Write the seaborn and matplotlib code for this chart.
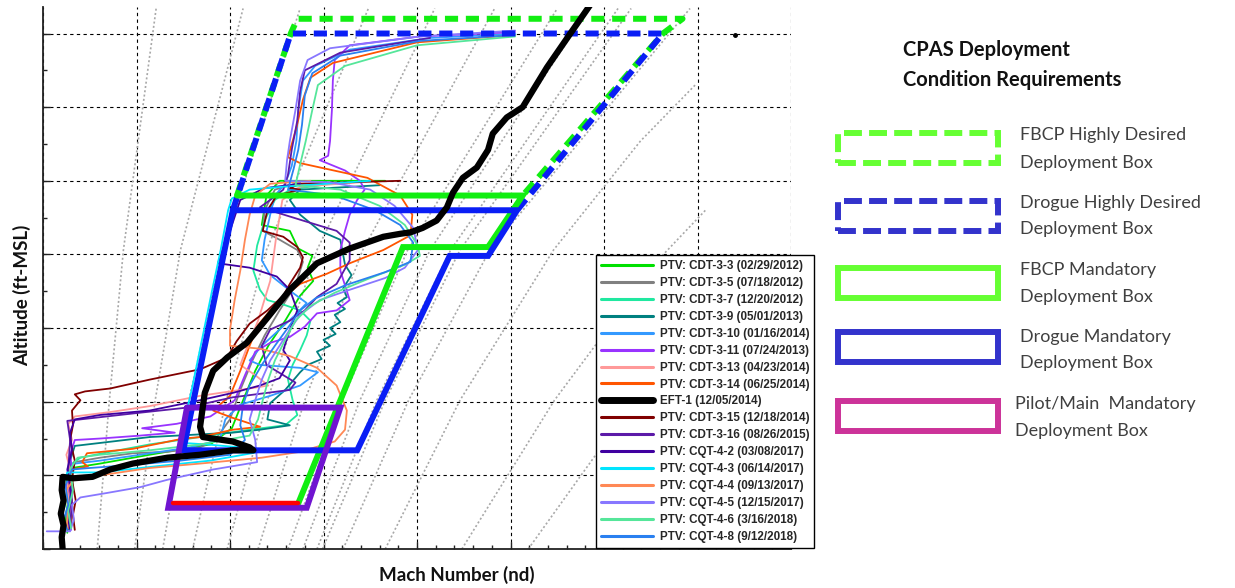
import numpy as np
import pandas as pd
import matplotlib
matplotlib.use("Agg")
import matplotlib.pyplot as plt
from matplotlib.lines import Line2D
from matplotlib.patches import Rectangle
from matplotlib.ticker import MultipleLocator
import seaborn as sns

# =============================================================================
# trajectory data (Mach, altitude ft)
# =============================================================================
cdt33_mach = [0.366, 0.253, 0.239, 0.234, 0.264, 0.273, 0.288, 0.283, 0.289, 0.275, 0.259, 0.241, 0.227, 0.214, 0.202, 0.179, 0.114, 0.061, 0.031, 0.025, 0.027, 0.024, 0.026]
cdt33_alt = [25000, 25000, 24000, 22000, 21600, 20400, 19900, 19100, 18200, 17200, 15500, 13800, 12100, 10100, 8200, 7100, 6400, 5800, 5500, 4700, 3300, 2000, 1100]

cdt35_mach = [0.275, 0.248, 0.237, 0.235, 0.253, 0.272, 0.278, 0.270, 0.253, 0.237, 0.224, 0.211, 0.200, 0.184, 0.168, 0.133, 0.096, 0.061, 0.034, 0.027, 0.029, 0.025, 0.027]
cdt35_alt = [24900, 24400, 23000, 21600, 21000, 20300, 19500, 17900, 16200, 14500, 12800, 10800, 8800, 7400, 6900, 6600, 6500, 6200, 5900, 5000, 3700, 2300, 1300]

cdt37_mach = [0.307, 0.264, 0.248, 0.237, 0.229, 0.225, 0.232, 0.240, 0.257, 0.275, 0.286, 0.282, 0.275, 0.267, 0.262, 0.267, 0.272, 0.259, 0.221, 0.168, 0.114, 0.072, 0.040, 0.029, 0.032, 0.028, 0.030]
cdt37_alt = [24800, 24400, 23700, 22300, 20600, 18900, 17600, 16900, 16600, 16200, 15500, 14500, 13500, 12500, 11500, 10100, 9100, 8400, 8100, 7600, 7100, 6600, 6200, 5700, 4300, 3000, 1600]

cdt39_mach = [0.360, 0.275, 0.264, 0.275, 0.296, 0.318, 0.323, 0.330, 0.321, 0.325, 0.315, 0.323, 0.312, 0.318, 0.307, 0.313, 0.300, 0.307, 0.293, 0.298, 0.283, 0.275, 0.259, 0.243, 0.240, 0.264, 0.232, 0.203, 0.114, 0.061, 0.034, 0.029, 0.032, 0.027, 0.030, 0.028]
cdt39_alt = [24700, 24400, 23700, 22700, 21600, 21000, 19300, 18600, 17700, 17100, 16700, 16300, 15900, 15400, 15000, 14600, 14200, 13800, 13400, 12900, 12500, 12000, 10800, 9900, 8800, 8400, 8100, 7900, 7600, 7200, 7000, 6000, 4700, 3300, 2000, 1300]

cdt310_mach = [0.505, 0.414, 0.328, 0.291, 0.278, 0.273, 0.271, 0.266, 0.259, 0.248, 0.243, 0.237, 0.234, 0.243, 0.267, 0.282, 0.270, 0.253, 0.234, 0.221, 0.232, 0.275, 0.294, 0.275, 0.243, 0.211, 0.195, 0.189, 0.157, 0.104, 0.061, 0.034, 0.027, 0.031, 0.026, 0.029]
cdt310_alt = [35000, 34700, 33900, 32800, 31800, 29800, 27700, 26000, 24800, 24000, 22700, 21000, 19600, 18600, 17400, 16700, 15900, 14900, 13800, 12800, 12500, 12300, 12000, 11100, 10400, 9800, 8800, 7400, 6900, 6400, 6000, 5800, 5000, 3700, 2300, 1300]

cdt311_mach = [0.505, 0.403, 0.328, 0.312, 0.310, 0.309, 0.307, 0.305, 0.296, 0.323, 0.339, 0.344, 0.336, 0.328, 0.323, 0.318, 0.318, 0.323, 0.328, 0.314, 0.293, 0.280, 0.264, 0.243, 0.227, 0.216, 0.205, 0.179, 0.143, 0.106, 0.141, 0.104, 0.061, 0.034, 0.029, 0.031, 0.025, 0.031, 0.027, 0.030]
cdt311_alt = [35100, 34800, 34200, 33200, 31800, 29800, 27700, 26700, 26400, 25700, 25000, 24400, 23700, 22700, 21600, 20300, 18900, 17900, 16900, 16200, 16000, 15100, 14400, 14000, 13400, 11800, 10100, 9000, 8500, 8200, 7900, 7700, 7500, 7400, 6400, 5400, 4300, 3300, 2300, 1300]

cdt313_mach = [0.339, 0.275, 0.256, 0.249, 0.243, 0.230, 0.217, 0.211, 0.227, 0.241, 0.211, 0.168, 0.114, 0.072, 0.034, 0.027, 0.031, 0.025, 0.029, 0.026, 0.029, 0.026]
cdt313_alt = [24900, 24600, 23700, 21000, 18200, 15500, 13500, 12500, 11800, 11100, 10800, 10400, 9700, 9300, 9000, 8500, 7400, 6400, 5400, 4000, 2600, 1400]

cdt314_mach = [0.505, 0.400, 0.310, 0.286, 0.278, 0.271, 0.267, 0.262, 0.275, 0.347, 0.382, 0.395, 0.393, 0.364, 0.328, 0.304, 0.275, 0.257, 0.243, 0.230, 0.221, 0.211, 0.200, 0.182, 0.203, 0.232, 0.203, 0.168, 0.150, 0.096, 0.047, 0.042, 0.048, 0.031, 0.029, 0.032, 0.028]
cdt314_alt = [34900, 34400, 33000, 32000, 30500, 28600, 27700, 26600, 26200, 25200, 24000, 22700, 21300, 20300, 19400, 18700, 18000, 17100, 16200, 15200, 13800, 12100, 10400, 9400, 8900, 8300, 8100, 7600, 7500, 6800, 6500, 5900, 5600, 5400, 4000, 2600, 1400]

eft1_mach = [0.587, 0.564, 0.539, 0.513, 0.496, 0.481, 0.476, 0.464, 0.449, 0.4385, 0.432, 0.421, 0.406, 0.393, 0.382, 0.364, 0.328, 0.293, 0.264, 0.240, 0.218, 0.197, 0.182, 0.173, 0.168, 0.171, 0.203, 0.221, 0.225, 0.203, 0.168, 0.133, 0.096, 0.072, 0.053, 0.032, 0.021, 0.020, 0.022, 0.019, 0.022, 0.020, 0.021]
eft1_alt = [37100, 35000, 32700, 30000, 29300, 28200, 27100, 25900, 25200, 24200, 23200, 22300, 21800, 21500, 21400, 21200, 20400, 19400, 17600, 15700, 14000, 13000, 12100, 10600, 8300, 7600, 7300, 6900, 6700, 6700, 6400, 6200, 5800, 5400, 4900, 4800, 4900, 4000, 3300, 2400, 1600, 800, 0]
eft1_dot_mach = [0.740]
eft1_dot_alt = [34900]

cdt315_mach = [0.382, 0.275, 0.264, 0.275, 0.250, 0.240, 0.235, 0.257, 0.272, 0.278, 0.275, 0.264, 0.257, 0.240, 0.221, 0.207, 0.197, 0.168, 0.114, 0.072, 0.045, 0.034, 0.040, 0.031, 0.032, 0.029, 0.034, 0.031, 0.035, 0.032, 0.034]
cdt315_alt = [25000, 24800, 24500, 24400, 24000, 23000, 21600, 21200, 20500, 19800, 19100, 18000, 17200, 16200, 15300, 14100, 13000, 12200, 11500, 10900, 10700, 10500, 10100, 9400, 8400, 7400, 6000, 4700, 3300, 2300, 1300]

cdt316_mach = [0.414, 0.318, 0.280, 0.275, 0.272, 0.266, 0.262, 0.257, 0.243, 0.232, 0.278, 0.314, 0.328, 0.328, 0.314, 0.293, 0.280, 0.264, 0.243, 0.234, 0.239, 0.270, 0.264, 0.203, 0.154, 0.096, 0.040, 0.026, 0.029, 0.027, 0.031, 0.029]
cdt316_alt = [34700, 33700, 32500, 31100, 29100, 27100, 25400, 24400, 23700, 23200, 22300, 21600, 20800, 19600, 18000, 17100, 16200, 15500, 14900, 13800, 12500, 11300, 10800, 10300, 9600, 9200, 8800, 8700, 7400, 5400, 3300, 1300]

cqt42_mach = [0.275, 0.237, 0.211, 0.200, 0.187, 0.221, 0.250, 0.264, 0.272, 0.264, 0.257, 0.264, 0.253, 0.232, 0.203, 0.168, 0.114, 0.061, 0.034, 0.029, 0.031, 0.026, 0.030, 0.027, 0.029]
cqt42_alt = [24800, 24500, 23700, 21600, 19400, 19100, 18500, 17600, 16200, 14900, 13500, 12800, 11600, 11100, 10600, 10100, 9400, 9100, 8800, 7900, 6700, 5400, 3700, 2000, 1300]

cqt43_mach = [0.350, 0.257, 0.221, 0.202, 0.198, 0.190, 0.181, 0.170, 0.159, 0.149, 0.150, 0.175, 0.211, 0.232, 0.179, 0.133, 0.061, 0.026, 0.021, 0.025, 0.020, 0.024]
cqt43_alt = [25000, 24600, 24400, 23800, 23000, 20300, 17600, 14200, 10800, 8100, 7200, 7100, 6900, 6600, 6000, 5700, 5200, 5200, 4300, 3300, 2300, 1400]

cqt44_mach = [0.286, 0.243, 0.227, 0.221, 0.216, 0.211, 0.205, 0.200, 0.200, 0.232, 0.264, 0.293, 0.314, 0.325, 0.323, 0.312, 0.275, 0.234, 0.168, 0.114, 0.061, 0.034, 0.025, 0.027, 0.025]
cqt44_alt = [25000, 24800, 24000, 22700, 21000, 18900, 16900, 14900, 13800, 13600, 13100, 12300, 11100, 9400, 8100, 7300, 6600, 6200, 5800, 5500, 5000, 4800, 4000, 2600, 1300]

cqt45_mach = [0.505, 0.403, 0.307, 0.283, 0.275, 0.270, 0.264, 0.261, 0.259, 0.307, 0.350, 0.376, 0.396, 0.401, 0.387, 0.366, 0.328, 0.296, 0.275, 0.264, 0.253, 0.243, 0.234, 0.227, 0.221, 0.227, 0.229, 0.182, 0.133, 0.104, 0.068, 0.040, 0.031, 0.033, 0.029, 0.004]
cqt45_alt = [35200, 34800, 34000, 33200, 31800, 29800, 27700, 26400, 25000, 24900, 24400, 23300, 21800, 20300, 19100, 18400, 17600, 16900, 15900, 14900, 13800, 12800, 11500, 10100, 8800, 7400, 5900, 5400, 4700, 4200, 3800, 3500, 3000, 2000, 1200, 1200]

cqt46_mach = [0.505, 0.400, 0.323, 0.294, 0.288, 0.281, 0.275, 0.270, 0.318, 0.360, 0.387, 0.401, 0.403, 0.387, 0.350, 0.312, 0.286, 0.270, 0.259, 0.248, 0.241, 0.235, 0.230, 0.221, 0.168, 0.114, 0.061, 0.037, 0.029, 0.032, 0.027, 0.030]
cqt46_alt = [34800, 34200, 32800, 31500, 29800, 27700, 26100, 24700, 24400, 23300, 22000, 20600, 19900, 19300, 18400, 17400, 16500, 15500, 14200, 12800, 11500, 10100, 8800, 7700, 7100, 6700, 6400, 6200, 5400, 4000, 2600, 1400]

cqt48_mach = [0.505, 0.403, 0.318, 0.288, 0.280, 0.277, 0.273, 0.268, 0.262, 0.312, 0.355, 0.382, 0.396, 0.393, 0.366, 0.323, 0.291, 0.275, 0.264, 0.248, 0.234, 0.221, 0.214, 0.211, 0.216, 0.200, 0.147, 0.093, 0.050, 0.031, 0.024, 0.027, 0.022, 0.026]
cqt48_alt = [34900, 34500, 33500, 32300, 30800, 28800, 27100, 25800, 24400, 24000, 23000, 22000, 20800, 19500, 18800, 17900, 17000, 16200, 15200, 13800, 12500, 11100, 9800, 8400, 7400, 6400, 6000, 5700, 5500, 5400, 4300, 3000, 2000, 1300]

test_names = ['PTV: CDT-3-3 (02/29/2012)', 'PTV: CDT-3-5 (07/18/2012)', 'PTV: CDT-3-7 (12/20/2012)',
              'PTV: CDT-3-9 (05/01/2013)', 'PTV: CDT-3-10 (01/16/2014)', 'PTV: CDT-3-11 (07/24/2013)',
              'PTV: CDT-3-13 (04/23/2014)', 'PTV: CDT-3-14 (06/25/2014)', 'EFT-1 (12/05/2014)',
              'PTV: CDT-3-15 (12/18/2014)', 'PTV: CDT-3-16 (08/26/2015)', 'PTV: CQT-4-2 (03/08/2017)',
              'PTV: CQT-4-3 (06/14/2017)', 'PTV: CQT-4-4 (09/13/2017)', 'PTV: CQT-4-5 (12/15/2017)',
              'PTV: CQT-4-6 (3/16/2018)', 'PTV: CQT-4-8 (9/12/2018)']
test_colors = ['#00e000', '#808080', '#20e8a0', '#008080', '#3399ff', '#9933ff', '#ff9999', '#ff5500',
               '#000000', '#800000', '#5c1aa8', '#4000a0', '#00e5ff', '#ff8855', '#8877ff', '#55e69a', '#2a80f0']

# deployment boxes (Mach, altitude ft)
fbcp_hd_mach = [0.2075, 0.265, 0.272, 0.684, 0.663, 0.513]
fbcp_hd_alt = [24000, 35000, 36000, 36000, 35000, 24000]
drogue_hd_mach = [0.203, 0.265, 0.663, 0.507]
drogue_hd_alt = [23000, 35000, 35000, 23000]
fbcp_m_mach = [0.2075, 0.513, 0.476, 0.385, 0.273]
fbcp_m_alt = [24000, 24000, 20500, 20500, 3100]
drogue_m_mach = [0.203, 0.507, 0.476, 0.435, 0.336, 0.150, 0.203]
drogue_m_alt = [23000, 23000, 19900, 19900, 6700, 6700, 23000]
pilot_mach = [0.154, 0.318, 0.282, 0.134, 0.154]
pilot_alt = [9600, 9600, 2800, 2800, 9600]
red_mach = [0.139, 0.273]
red_alt = [3100, 3100]

# constant dynamic pressure guide lines (Mach, altitude ft)
q_lines = [
    ([0.058, 0.071, 0.086, 0.121], [0, 10100, 20300, 36700]),
    ([0.098, 0.120, 0.147, 0.214], [0, 10100, 20300, 36700]),
    ([0.128, 0.156, 0.192, 0.275], [0, 10100, 20300, 36700]),
    ([0.160, 0.196, 0.239, 0.348], [0, 10100, 20300, 36700]),
    ([0.197, 0.240, 0.293, 0.419], [0, 10100, 20300, 36700]),
    ([0.230, 0.280, 0.342, 0.483], [0, 10100, 20300, 36700]),
    ([0.262, 0.320, 0.390, 0.550], [0, 10100, 20300, 36700]),
    ([0.278, 0.339, 0.414, 0.584], [0, 10100, 20300, 36700]),
    ([0.293, 0.357, 0.436, 0.615], [0, 10100, 20300, 36700]),
    ([0.299, 0.366, 0.446, 0.629], [0, 10100, 20300, 36700]),
    ([0.321, 0.391, 0.478, 0.692], [0, 10100, 20300, 36700]),
    ([0.366, 0.446, 0.546, 0.639, 0.699], [0, 10100, 20300, 27700, 31600]),
    ([0.448, 0.547, 0.662, 0.710], [0, 10100, 19900, 23100]),
    ([0.519, 0.633, 0.703], [0, 10100, 15700]),
]

# =============================================================================
# build long table of trajectories
# =============================================================================
series = [(cdt33_mach, cdt33_alt), (cdt35_mach, cdt35_alt), (cdt37_mach, cdt37_alt),
          (cdt39_mach, cdt39_alt), (cdt310_mach, cdt310_alt), (cdt311_mach, cdt311_alt),
          (cdt313_mach, cdt313_alt), (cdt314_mach, cdt314_alt), (eft1_mach, eft1_alt),
          (cdt315_mach, cdt315_alt), (cdt316_mach, cdt316_alt), (cqt42_mach, cqt42_alt),
          (cqt43_mach, cqt43_alt), (cqt44_mach, cqt44_alt), (cqt45_mach, cqt45_alt),
          (cqt46_mach, cqt46_alt), (cqt48_mach, cqt48_alt)]
frames = []
for name, (m, a) in zip(test_names, series):
    frames.append(pd.DataFrame({'test': name, 'mach': m, 'alt': a}))
traj = pd.concat(frames, ignore_index=True)
palette = dict(zip(test_names, test_colors))
ptv = traj[traj['test'] != 'EFT-1 (12/05/2014)']
eft = traj[traj['test'] == 'EFT-1 (12/05/2014)']

# =============================================================================
# plot
# =============================================================================
sns.set_theme(style="white")
plt.rcParams['font.family'] = ['Liberation Sans', 'DejaVu Sans']

fig = plt.figure(figsize=(12.35, 5.88), dpi=100)
ax = fig.add_axes([43/1235, 39/588, 748/1235, 542/588])

for qm, qa in q_lines:
    ax.plot(qm, qa, color='#a8a8a8', lw=1.2, ls=(0, (1.2, 1.4)), zorder=1)

sns.lineplot(data=ptv, x='mach', y='alt', hue='test', palette=palette, sort=False,
             estimator=None, linewidth=1.3, legend=False, ax=ax, zorder=3)

# boxes
box_lw = 4.3
ax.plot(fbcp_hd_mach, fbcp_hd_alt, color='#11ee11', lw=box_lw, ls=(0, (2.2, 1.3)), zorder=4)
ax.plot(drogue_hd_mach, drogue_hd_alt, color='#0a1ef5', lw=box_lw, ls=(0, (2.2, 1.3)), zorder=4)
ax.plot(fbcp_m_mach, fbcp_m_alt, color='#11ee11', lw=box_lw, zorder=4, solid_joinstyle='miter')
ax.plot(drogue_m_mach, drogue_m_alt, color='#0a1ef5', lw=box_lw, zorder=4, solid_joinstyle='miter')
ax.plot(pilot_mach, pilot_alt, color='#7014d0', lw=box_lw, zorder=4, solid_joinstyle='miter')
ax.plot(red_mach, red_alt, color='#ff0000', lw=3.2, zorder=4)

sns.lineplot(data=eft, x='mach', y='alt', color='black', sort=False, estimator=None,
             linewidth=4.5, legend=False, ax=ax, zorder=5)
ax.plot(eft1_dot_mach, eft1_dot_alt, 'o', color='black', ms=2.5, zorder=5)

ax.set_xlim(0, 0.8)
ax.set_ylim(0, 36800)
ax.xaxis.set_major_locator(MultipleLocator(0.1))
ax.xaxis.set_minor_locator(MultipleLocator(0.02))
ax.yaxis.set_major_locator(MultipleLocator(5000))
ax.yaxis.set_minor_locator(MultipleLocator(2500))
ax.grid(True, which='major', color='black', lw=0.8, ls=(0, (3, 3)))
ax.set_axisbelow(True)
ax.tick_params(which='both', direction='in', bottom=True, left=True,
               labelbottom=False, labelleft=False, color='#222222')
ax.tick_params(which='major', length=5, width=1)
ax.tick_params(which='minor', length=3, width=1)
ax.set_xlabel('')
ax.set_ylabel('')
for s in ['top', 'right']:
    ax.spines[s].set_visible(False)
for s in ['left', 'bottom']:
    ax.spines[s].set_color('#222222')
    ax.spines[s].set_linewidth(1.3)

fig.text(22/1235, 1-295/588, 'Altitude (ft-MSL)', rotation=90, ha='center', va='center',
         family='Lato', weight='bold', size=13.5, color='#111111')
fig.text(457/1235, 1-575/588, 'Mach Number (nd)', ha='center', va='center',
         family='Lato', weight='bold', size=13.5, color='#111111')

# legend of flight tests
handles = [Line2D([0], [0], color=c, lw=(5 if n.startswith('EFT') else 2.2))
           for n, c in zip(test_names, test_colors)]
leg = ax.legend(handles, test_names, loc='upper left', bbox_to_anchor=(596/1235, 1-255/588),
                bbox_transform=fig.transFigure, prop={'family': 'Liberation Sans', 'weight': 'bold', 'size': 8.4},
                frameon=True, fancybox=False, edgecolor='black', framealpha=1,
                handlelength=4.4, handletextpad=0.6, labelspacing=0.42, borderpad=0.45, borderaxespad=0)
leg.get_frame().set_linewidth(1.0)
leg.set_zorder(10)

# deployment requirement key on the right
fig.text(903/1235, 1-50/588, 'CPAS Deployment', ha='left', va='center',
         family='Lato', weight='bold', size=14.5, color='#111111')
fig.text(903/1235, 1-80/588, 'Condition Requirements', ha='left', va='center',
         family='Lato', weight='bold', size=14.5, color='#111111')

key_items = [
    ('#66ff33', True, 130, 'FBCP Highly Desired', 135, 163, 1020),
    ('#3333cc', True, 198, 'Drogue Highly Desired', 203, 229, 1020),
    ('#66ff33', False, 265, 'FBCP Mandatory', 270, 297, 1020),
    ('#3333cc', False, 329, 'Drogue Mandatory', 337, 363, 1020),
    ('#cc3399', False, 398, 'Pilot/Main  Mandatory', 404, 431, 1015),
]
for color, dashed, top, line1, y1, y2, tx in key_items:
    rect = Rectangle((838/1235, 1-(top+33)/588), 160/1235, 30/588, transform=fig.transFigure,
                     fill=False, edgecolor=color, lw=4.3, joinstyle='miter',
                     ls=(0, (3.0, 1.2)) if dashed else '-')
    fig.add_artist(rect)
    fig.text(tx/1235, 1-y1/588, line1, ha='left', va='center', family='Lato', size=13, color='#404040')
    fig.text(tx/1235, 1-y2/588, 'Deployment Box', ha='left', va='center', family='Lato', size=13, color='#404040')

fig.savefig('out.png', dpi=100)
